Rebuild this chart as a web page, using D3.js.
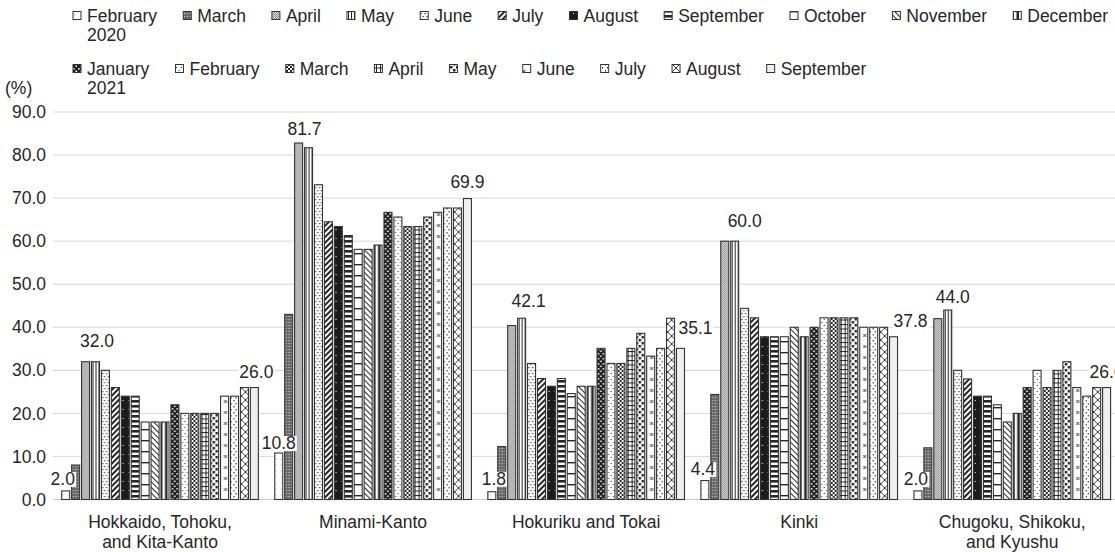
<!DOCTYPE html>
<html>
<head>
<meta charset="utf-8">
<script src="https://cdn.jsdelivr.net/npm/d3@7"></script>
<style>
  html, body { margin: 0; padding: 0; background: #fff; }
  svg { display: block; font-family: "Liberation Sans", Arial, sans-serif; }
</style>
</head>
<body>
<svg id="chart" width="1115" height="552"></svg>
<script>
// ---- data ----
const regions = [
  ["Hokkaido, Tohoku,", "and Kita-Kanto"],
  ["Minami-Kanto"],
  ["Hokuriku and Tokai"],
  ["Kinki"],
  ["Chugoku, Shikoku,", "and Kyushu"]
];
const months = [
  ["February", "2020"], ["March"], ["April"], ["May"], ["June"], ["July"],
  ["August"], ["September"], ["October"], ["November"], ["December"],
  ["January", "2021"], ["February"], ["March"], ["April"], ["May"],
  ["June"], ["July"], ["August"], ["September"]
];
const hokkaidoTohoku = [2.0, 8.0, 32.0, 32.0, 30.0, 26.0, 24.0, 24.0, 18.0, 18.0, 18.0, 22.0, 20.0, 20.0, 20.0, 20.0, 24.0, 24.0, 26.0, 26.0];
const minamiKanto    = [10.8, 43.0, 82.8, 81.7, 73.1, 64.5, 63.4, 61.3, 58.1, 58.1, 59.1, 66.7, 65.6, 63.4, 63.4, 65.6, 66.7, 67.7, 67.7, 69.9];
const hokurikuTokai  = [1.8, 12.3, 40.4, 42.1, 31.6, 28.1, 26.3, 28.1, 24.6, 26.3, 26.3, 35.1, 31.6, 31.6, 35.1, 38.6, 33.3, 35.1, 42.1, 35.1];
const kinki          = [4.4, 24.4, 60.0, 60.0, 44.4, 42.2, 37.8, 37.8, 37.8, 40.0, 37.8, 40.0, 42.2, 42.2, 42.2, 42.2, 40.0, 40.0, 40.0, 37.8];
const chugokuKyushu  = [2.0, 12.0, 42.0, 44.0, 30.0, 28.0, 24.0, 24.0, 22.0, 18.0, 20.0, 26.0, 30.0, 26.0, 30.0, 32.0, 26.0, 24.0, 26.0, 26.0];
const yTicks = [0, 10, 20, 30, 40, 50, 60, 70, 80, 90];
const labelledMonths = [0, 3, 19];

const seriesByRegion = [hokkaidoTohoku, minamiKanto, hokurikuTokai, kinki, chugokuKyushu];

// ---- layout ----
const W = 1115, H = 552;
const INK = "#262626";
const FONT = 17.5;
const svg = d3.select("#chart");

const x0 = d3.scaleBand().domain(d3.range(regions.length)).range([53.5, 1118.8]);
const x1 = d3.scaleBand().domain(d3.range(months.length))
  .range([8.2, x0.bandwidth() - 8.2]).paddingInner(0.194);
const y = d3.scaleLinear().domain([0, 90]).range([499.5, 112]);
const fmt = d3.format(".1f");

// ---- fill patterns, one per month ----
const defs = svg.append("defs");
function pat(id, w, h, bg, draw, transform) {
  const p = defs.append("pattern").attr("id", id)
    .attr("patternUnits", "userSpaceOnUse").attr("width", w).attr("height", h);
  if (transform) p.attr("patternTransform", transform);
  p.append("rect").attr("width", w).attr("height", h).attr("fill", bg);
  if (draw) draw(p);
}
const r = (p, x, yy, w, h, c) => p.append("rect").attr("x", x).attr("y", yy).attr("width", w).attr("height", h).attr("fill", c || INK);
const ln = (p, d, sw) => p.append("path").attr("d", d).attr("stroke", INK).attr("stroke-width", sw).attr("fill", "none");

pat("p0", 6, 6, "#fff", p => r(p, 2.5, 2.5, 1, 1, "#9a9a9a"));
pat("p1", 3, 3, "#6b6b6b", p => r(p, 1, 1, 1, 1, "#d6d6d6"));
pat("p2", 2, 2, "#e2e2e2", p => { r(p, 0, 0, 1, 1, "#8a8a8a"); r(p, 1, 1, 1, 1, "#8a8a8a"); });
pat("p3", 3, 10, "#fff", p => r(p, 0, 0, 1, 10));
pat("p4", 4, 6, "#fff", p => { r(p, 0.5, 1, 1.2, 1.2); r(p, 2.5, 4, 1.2, 1.2); });
pat("p5", 4, 4, "#fff", p => r(p, 0, 0, 2, 4), "rotate(45)");
pat("p6", 6, 9, "#1c1c1c", p => r(p, 3, 4, 1, 1, "#fff"));
pat("p7", 6, 5, "#fff", p => r(p, 0, 0, 6, 2.6));
pat("p8", 6, 11, "#fff", p => r(p, 0, 0, 6, 1.4));
pat("p9", 4, 4, "#fff", p => r(p, 0, 0, 1, 4), "rotate(-45)");
pat("p10", 5, 6, "#fff", p => r(p, 1.5, 0, 2.5, 6));
pat("p11", 5, 5, "#1e1e1e", p => { r(p, 0.5, 0.5, 1.6, 1.6, "#fff"); r(p, 3, 3, 1.6, 1.6, "#fff"); });
pat("p12", 5, 6, "#fff", p => { r(p, 1, 1, 1, 1); r(p, 3.5, 4, 1, 1); });
pat("p13", 4, 4, "#fff", p => { r(p, 0, 0, 2, 2); r(p, 2, 2, 2, 2); });
pat("p14", 4, 4.5, "#fff", p => { r(p, 0, 0, 1, 4.5); r(p, 0, 0, 4, 1); });
pat("p15", 6, 6, "#fff", p => { r(p, 0, 0, 2.5, 2.5); r(p, 3, 3, 2.5, 2.5); });
pat("p16", 8, 11, "#fff", p => ln(p, "M2.5,4 l3,3 M5.5,4 l-3,3", 0.9));
pat("p17", 5, 6, "#fff", p => { r(p, 2, 1, 1, 1.5); r(p, 0, 4, 1, 1.5); });
pat("p18", 8, 8, "#fff", p => ln(p, "M0,0L8,8M8,0L0,8", 0.9));
pat("p19", 4, 4, "#efefef");
const fillOf = i => `url(#p${i})`;

// ---- gridlines and y axis ----
const grid = svg.append("g");
grid.selectAll("line").data(yTicks).join("line")
  .attr("x1", 53).attr("x2", W)
  .attr("y1", d => y(d)).attr("y2", d => y(d))
  .attr("stroke", d => d === 0 ? "#c8c8c8" : "#d9d9d9").attr("stroke-width", 1);

svg.append("g").selectAll("text").data(yTicks).join("text")
  .attr("x", 46).attr("y", d => y(d)).attr("dy", "0.35em")
  .attr("text-anchor", "end").attr("font-size", FONT).attr("fill", INK)
  .text(d => fmt(d));

svg.append("text").attr("x", 5).attr("y", 94)
  .attr("font-size", FONT).attr("fill", INK).text("(%)");

// ---- bars ----
const groups = svg.append("g").selectAll("g").data(seriesByRegion).join("g")
  .attr("transform", (d, ri) => `translate(${x0(ri)},0)`);

groups.selectAll("rect").data(d => d.map((v, i) => ({ v, i }))).join("rect")
  .attr("x", d => x1(d.i)).attr("width", x1.bandwidth())
  .attr("y", d => y(d.v)).attr("height", d => y(0) - y(d.v))
  .attr("fill", d => fillOf(d.i))
  .attr("stroke", "#333").attr("stroke-width", 1.1);

// ---- region labels ----
svg.append("g").selectAll("text").data(regions).join("text")
  .attr("x", (d, ri) => x0(ri) + x0.bandwidth() / 2)
  .attr("y", 528).attr("text-anchor", "middle")
  .attr("font-size", FONT).attr("fill", INK)
  .each(function (lines) {
    d3.select(this).selectAll("tspan").data(lines).join("tspan")
      .attr("x", d3.select(this).attr("x"))
      .attr("dy", (l, k) => k === 0 ? 0 : 19.5)
      .text(l => l);
  });

// ---- value labels (first, peak and last month) ----
const labelShift = {
  "0-0": [-3, 6],  "0-3": [1.5, 15], "0-19": [2, 10],
  "1-0": [0, 4],   "1-3": [-4, 12.5], "1-19": [0, 11],
  "2-0": [2, 7],   "2-3": [7, 11.5], "2-19": [15, 14],
  "3-0": [-2, 5.5], "3-3": [10, 14], "3-19": [17, 10],
  "4-0": [-2, 6],  "4-3": [5, 7],    "4-19": [0, 10]
};
const labelData = [];
seriesByRegion.forEach((s, ri) => labelledMonths.forEach(i => labelData.push({ ri, i, v: s[i] })));
const lbl = svg.append("g");
labelData.forEach(d => {
  const [dx, gap] = labelShift[`${d.ri}-${d.i}`] || [0, 8];
  const cx = x0(d.ri) + x1(d.i) + x1.bandwidth() / 2 + dx;
  const g = lbl.append("g");
  const bg = g.append("rect").attr("fill", "#fff");
  const t = g.append("text").attr("x", cx).attr("y", y(d.v) - gap)
    .attr("text-anchor", "middle").attr("font-size", FONT).attr("fill", INK)
    .text(fmt(d.v));
  const b = t.node().getBBox();
  bg.attr("x", b.x - 1).attr("y", b.y + 3).attr("width", b.width + 2).attr("height", b.height - 5);
});

// ---- legend: two rows, entries packed left to right with a fixed gap ----
const legendRows = [months.slice(0, 11).map((m, k) => ({ m, i: k })),
                    months.slice(11).map((m, k) => ({ m, i: k + 11 }))];
const rowBase = [22, 75];
const legend = svg.append("g");
legendRows.forEach((row, rIdx) => {
  let sx = 73;
  row.forEach(d => {
    const g = legend.append("g");
    g.append("rect").attr("x", sx).attr("y", rowBase[rIdx] - 10.5)
      .attr("width", 8).attr("height", 8)
      .attr("fill", fillOf(d.i)).attr("stroke", "#333").attr("stroke-width", 1);
    const t = g.append("text").attr("x", sx + 14).attr("y", rowBase[rIdx])
      .attr("font-size", FONT).attr("fill", INK);
    t.selectAll("tspan").data(d.m).join("tspan")
      .attr("x", sx + 14).attr("dy", (l, k2) => k2 === 0 ? 0 : 19)
      .text(l => l);
    const w = t.node().getBBox().width;
    sx = sx + 14 + w + 26;
  });
});
</script>
</body>
</html>
